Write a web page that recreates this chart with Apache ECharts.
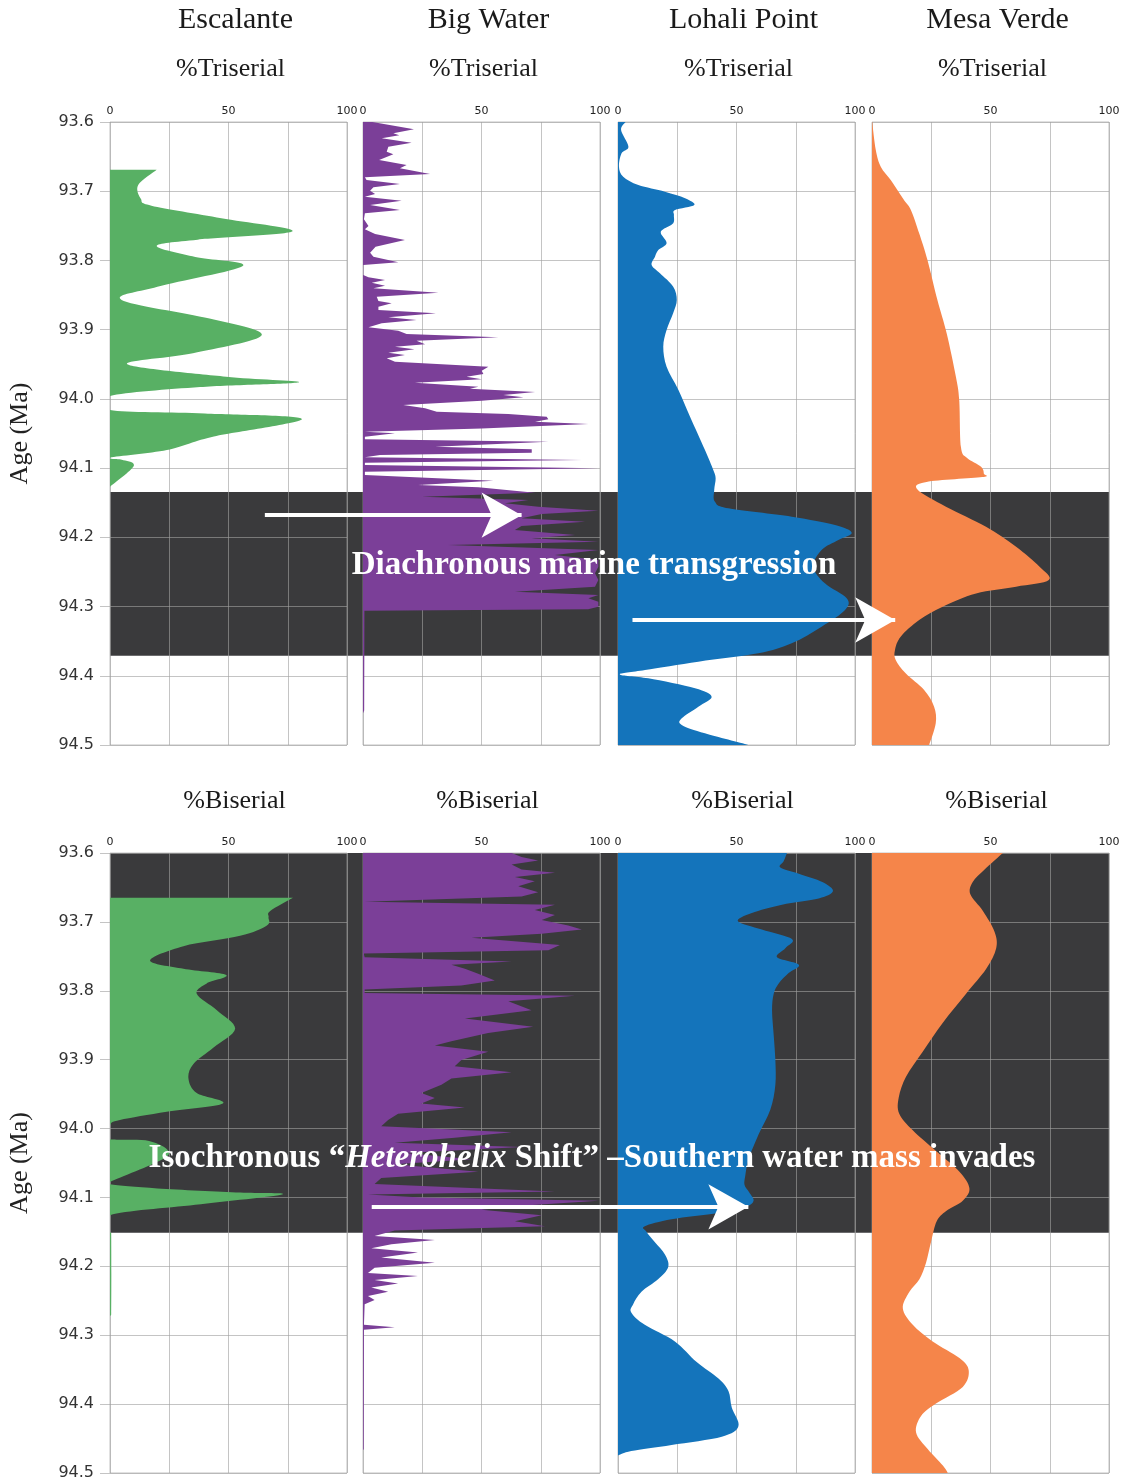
<!DOCTYPE html>
<html>
<head>
<meta charset="utf-8">
<title>Foraminifera profiles</title>
<script src="https://cdn.jsdelivr.net/npm/echarts@6/dist/echarts.min.js"></script>
<style>
  html, body { margin: 0; padding: 0; background: #fff; }
  #chart { width: 1131px; height: 1481px; }
</style>
</head>
<body>
<div id="chart"></div>
<script>
// ---- data -------------------------------------------------------------
const sites = ['Escalante', 'Big Water', 'Lohali Point', 'Mesa Verde'];
const rowLabels = ['%Triserial', '%Biserial'];
const pctTicks = [0, 50, 100];
const ageRange = [93.6, 94.5];
const ageAxisName = 'Age (Ma)';

// shaded intervals (Ma)
const bandTriserial = [94.1345, 94.371];
const bandBiserial = [93.6, 94.1514];

// annotation arrows: [age, from %, to %] on a 0-100 scale across the whole row
const arrowsTriserial = [[94.168, 15.5, 41.2], [94.3194, 52.3, 78.6]];
const arrowsBiserial = [[94.1136, 26.2, 63.9]];
const noteTriserial = 'Diachronous marine transgression';
const noteBiserial = ['Isochronous “', 'Heterohelix', ' Shift” –Southern water mass invades'];

// profiles: [age (Ma), percent]
const escalanteTri = [[93.669,19.7],[93.691,11.9],[93.711,13],[93.721,17.5],[93.739,47],[93.758,77],[93.770,37],[93.779,19.7],[93.795,36],[93.808,56],[93.838,20],[93.857,4.9],[93.884,42],[93.908,64],[93.934,35],[93.950,7.3],[93.968,49],[93.976,79.7],[93.983,38],[93.996,0],[94.016,0],[94.021,40],[94.029,81],[94.055,43],[94.074,24],[94.085,0],[94.088,5],[94.097,10],[94.127,0]];

const bigWaterTri = [[93.600,4],[93.6106,21.5],[93.6164,12.8],[93.6193,15.3],[93.6236,7.9],[93.6299,20.5],[93.6356,10.7],[93.6429,10.0],[93.6467,12.8],[93.6549,6.8],[93.6621,18.4],[93.6669,15.6],[93.6751,28.3],[93.6799,0.8],[93.6838,1.5],[93.6896,15.6],[93.6944,4.4],[93.6992,3.0],[93.7040,5.1],[93.7079,0.8],[93.7136,16.3],[93.7199,3.0],[93.7271,15.6],[93.7319,0.8],[93.7406,0.4],[93.7502,2.3],[93.7551,0.8],[93.7618,5.1],[93.7705,17.7],[93.7801,5.3],[93.7888,3.0],[93.7945,4.4],[93.8027,14.9],[93.8066,0.1],[93.8210,0.1],[93.8244,2.3],[93.8283,9.3],[93.8321,3.7],[93.8364,9.3],[93.8403,4.4],[93.8466,31.8],[93.8523,5.8],[93.8586,6.5],[93.8620,12.1],[93.8668,6.5],[93.8716,6.5],[93.8764,30.8],[93.8822,10.7],[93.8860,22.6],[93.8909,7.9],[93.8966,2.3],[93.9014,14.9],[93.9063,18.4],[93.9111,57.1],[93.9159,22.6],[93.9212,26.2],[93.9246,13.5],[93.9284,21.7],[93.9332,10.7],[93.9366,17.7],[93.9414,10.0],[93.9462,13.5],[93.9535,52.9],[93.9592,50.1],[93.9640,50.8],[93.9679,43.7],[93.9718,50.1],[93.9766,21.9],[93.9824,48.7],[93.9852,45.1],[93.9901,72.6],[93.9944,59.2],[93.9978,67.7],[94.0026,50.1],[94.0088,17.0],[94.0137,26.2],[94.0185,31.1],[94.0218,61.3],[94.0257,77.5],[94.0295,78.2],[94.0329,72.6],[94.0363,95.1],[94.0426,50.1],[94.0474,0.8],[94.0498,13.5],[94.0546,0.8],[94.0584,0.8],[94.0618,78.2],[94.0690,30.4],[94.0729,71.2],[94.0777,71.2],[94.0811,7.2],[94.0844,0.8],[94.0883,92.3],[94.0921,0.8],[94.0955,0.8],[94.1003,99.3],[94.1052,0.8],[94.1100,0.8],[94.1182,55.0],[94.1244,23.3],[94.1278,48.7],[94.1316,60.6],[94.1355,72.6],[94.1413,24.8],[94.1461,69.8],[94.1509,59.9],[94.1557,74.0],[94.1615,99.3],[94.1663,75.4],[94.1726,66.9],[94.1774,93.7],[94.1836,66.9],[94.1894,64.1],[94.1966,89.5],[94.2015,71.2],[94.2063,99.3],[94.2111,36.0],[94.2183,99.3],[94.2255,81.0],[94.2328,99.3],[94.2424,99.3],[94.2520,97.9],[94.2617,99.3],[94.2713,97.9],[94.2785,64.1],[94.2833,99.3],[94.2881,95.1],[94.2930,99.3],[94.3002,99.3],[94.3040,95.0],[94.3060,0.6],[94.4500,0.5],[94.4540,0]];

const lohaliTri = [[93.600,3.2],[93.6116,1.3],[93.6356,4.4],[93.645,1.5],[93.6645,0.4],[93.679,2.2],[93.691,8.6],[93.7006,19.8],[93.710,28.3],[93.7199,32.2],[93.727,24.1],[93.7344,23.6],[93.7464,23.3],[93.755,19.1],[93.761,18.1],[93.775,20.5],[93.785,17.0],[93.7945,15.6],[93.8066,14.2],[93.8186,17.7],[93.8379,23.3],[93.857,24.8],[93.876,23.3],[93.9005,20.5],[93.9246,19.1],[93.9535,20.5],[93.987,25.5],[94.0257,30.4],[94.0739,36.7],[94.1027,40.2],[94.1148,41.2],[94.1316,40.6],[94.1485,40.9],[94.1581,46.6],[94.1702,73.3],[94.1822,91.6],[94.1933,98.6],[94.2039,93.0],[94.2183,85.9],[94.2424,82.4],[94.2665,87.3],[94.2881,96.5],[94.305,95.8],[94.3291,85.9],[94.3531,73.3],[94.3676,59.2],[94.3796,33.9],[94.3917,11.4],[94.398,0.8],[94.4037,12.8],[94.418,32.5],[94.4302,39.5],[94.4446,33.9],[94.4615,26.9],[94.471,26.9],[94.4832,36.7],[94.5,55]];

const mesaVerdeTri = [[93.600,0.1],[93.6404,1.6],[93.6645,3.7],[93.6838,7.9],[93.6982,10.7],[93.7127,13.5],[93.7271,16.4],[93.7608,19.9],[93.7994,23.4],[93.8572,27.6],[93.9053,31.5],[93.9679,35.4],[94.0016,36.8],[94.069,37.5],[94.085,40],[94.098,46],[94.108,47.2],[94.113,46.5],[94.120,23],[94.131,19.2],[94.1557,31.2],[94.1846,48.1],[94.2135,60.8],[94.2424,70.7],[94.2617,74.6],[94.2713,60.8],[94.281,43.9],[94.3002,29.8],[94.3195,19.9],[94.3435,12.1],[94.3628,9.7],[94.3772,10],[94.3965,14.2],[94.4206,22],[94.4446,26.2],[94.4687,26.9],[94.5,24.1]];

const escalanteBi = [[93.665,77.2],[93.6841,67.6],[93.6931,66.9],[93.7051,66.2],[93.7202,54.9],[93.7352,31],[93.7562,16.9],[93.7682,31],[93.7772,49],[93.7893,40.8],[93.8043,36.6],[93.8283,45.1],[93.8553,52.8],[93.8824,43.7],[93.9064,35.2],[93.9274,33.1],[93.9485,36.6],[93.9635,47.6],[93.9755,23.9],[93.9875,4.2],[93.9953,0],[94.0157,0],[94.017,15],[94.030,24],[94.045,22],[94.0776,0],[94.081,0],[94.087,20],[94.093,55],[94.0957,72.5],[94.1107,36],[94.1257,0],[94.150,0],[94.152,0.5],[94.270,0.5],[94.272,0]];

const bigWaterBi = [[93.600,62.7],[93.6058,66.9],[93.6108,73.9],[93.6168,62.7],[93.624,66.9],[93.6288,81],[93.6348,64.1],[93.6409,72.5],[93.6481,65.5],[93.6571,73.9],[93.6631,66.9],[93.6709,0.7],[93.6751,81],[93.6829,72.5],[93.6901,81],[93.6973,75.4],[93.7051,86.6],[93.7112,92.3],[93.7172,75.4],[93.7232,45.8],[93.7334,83.1],[93.7412,78.2],[93.746,0.3],[93.7514,0.7],[93.7574,62.7],[93.7622,37.3],[93.7682,43],[93.7754,48.6],[93.785,55.6],[93.7923,41.5],[93.7983,0.7],[93.8031,0.7],[93.8073,89.4],[93.8151,61.3],[93.8283,71.1],[93.8403,43],[93.8523,71.8],[93.8614,52.8],[93.8734,37.3],[93.8794,30.3],[93.8884,52.8],[93.9004,41.5],[93.9094,38.7],[93.9184,62.7],[93.9274,37.3],[93.9365,33.1],[93.9485,24.6],[93.9557,30.3],[93.9635,24.6],[93.9695,43],[93.9785,14.8],[93.9875,10.6],[93.9965,7.7],[94.0055,62.7],[94.0134,38.7],[94.0206,13.4],[94.0266,66.9],[94.0356,17.6],[94.0446,45.8],[94.0518,13.4],[94.0626,48.6],[94.0716,7.7],[94.0806,4.9],[94.0915,81],[94.0957,2.1],[94.0999,24.6],[94.1047,99.3],[94.1119,66.9],[94.1179,50],[94.1257,75.4],[94.1347,64.1],[94.1419,76.8],[94.1479,13.4],[94.1558,4.9],[94.1618,30.3],[94.1678,12],[94.1738,3.5],[94.1798,23.2],[94.187,7.7],[94.1948,30.3],[94.202,4.9],[94.2098,2.1],[94.214,23.2],[94.22,4.9],[94.2248,14.8],[94.2308,3.5],[94.2369,10.6],[94.2429,2.1],[94.2489,4.9],[94.2549,0.7],[94.2849,0.4],[94.2885,13.4],[94.2921,0.4],[94.4652,0.3],[94.467,0]];

const lohaliBi = [[93.600,71.3],[93.612,69.9],[93.621,68.5],[93.630,76.3],[93.642,86.2],[93.6553,90.7],[93.6661,84.7],[93.6751,69.2],[93.6871,56.5],[93.6991,50.6],[93.7112,60.7],[93.725,73.4],[93.7382,70.6],[93.7514,67.1],[93.7622,76.3],[93.7742,72],[93.7893,67.8],[93.8043,65.7],[93.8283,65],[93.8644,65.7],[93.9004,66.4],[93.9365,66.4],[93.9725,64.3],[94.0086,59.3],[94.0446,55.1],[94.0686,53.7],[94.0819,53.4],[94.0927,55.4],[94.1047,57.2],[94.1137,53.7],[94.1227,42.4],[94.1317,22.6],[94.1419,11.3],[94.1497,12],[94.1648,15.5],[94.1828,19.8],[94.2008,21.2],[94.2188,16.9],[94.2369,9.9],[94.2549,6.4],[94.2669,5.6],[94.2849,11.3],[94.309,24],[94.339,33.2],[94.363,42.4],[94.3811,46.6],[94.4051,48],[94.4322,50.8],[94.4472,43.8],[94.4592,22.6],[94.4682,5.6],[94.4742,0.3]];

const mesaVerdeBi = [[93.600,55.2],[93.624,47.5],[93.642,42.5],[93.660,41.5],[93.6841,46.8],[93.7142,51.7],[93.7382,52.4],[93.7682,48.2],[93.8043,39.7],[93.8463,29.9],[93.8884,21.4],[93.9244,14.4],[93.9545,11.3],[93.9785,11.5],[94.0026,17.2],[94.0326,27],[94.0626,36.9],[94.0867,41.1],[94.1047,38.3],[94.1197,31.3],[94.1347,27.3],[94.1648,24.9],[94.1948,22.8],[94.2188,20],[94.2369,15.8],[94.2609,13],[94.2849,17.2],[94.309,25.6],[94.333,36.9],[94.351,40.8],[94.375,38.3],[94.399,27],[94.4171,20.7],[94.4411,18.6],[94.4652,23.5],[94.4892,29.9],[94.5,32]];

// ---- layout & style ---------------------------------------------------
const PANEL_LEFT = [110, 363, 618, 872];
const PANEL_W = 237;
const ROW_TOP = [122, 853];
const ROW_H = [623, 620];
const SITE_COLORS = ['#58b064', '#7b3f98', '#1474bb', '#f5854a'];
const SMOOTH = [true, false, true, true];
const GRID_LINE = 'rgba(160,160,160,0.62)';
const BAND_FILL = '#3a3a3c';
const SERIF = '"Liberation Serif", "Times New Roman", serif';
const SANS = '"DejaVu Sans", Verdana, sans-serif';

const profiles = [
  [escalanteTri, bigWaterTri, lohaliTri, mesaVerdeTri],
  [escalanteBi, bigWaterBi, lohaliBi, mesaVerdeBi]
];
const bands = [bandTriserial, bandBiserial];
const arrows = [arrowsTriserial, arrowsBiserial];

// Catmull-Rom through pixel points, converted to cubic Bezier segments
function splinePath(pts) {
  let d = '';
  const clamp = (v, a, b) => Math.min(Math.max(v, Math.min(a, b)), Math.max(a, b));
  for (let i = 0; i < pts.length - 1; i++) {
    const p0 = pts[i - 1] || pts[i], p1 = pts[i], p2 = pts[i + 1], p3 = pts[i + 2] || pts[i + 1];
    const c1x = p1[0] + (p2[0] - p0[0]) / 6;
    const c1y = clamp(p1[1] + (p2[1] - p0[1]) / 6, p1[1], p2[1]);
    const c2x = p2[0] - (p3[0] - p1[0]) / 6;
    const c2y = clamp(p2[1] - (p3[1] - p1[1]) / 6, p1[1], p2[1]);
    d += 'C' + c1x + ',' + c1y + ',' + c2x + ',' + c2y + ',' + p2[0] + ',' + p2[1];
  }
  return d;
}

// filled profile: area between the 0 % line and the curve
function profileSeries(axisIdx, rows, color, smooth) {
  return {
    type: 'custom',
    coordinateSystem: 'cartesian2d',
    xAxisIndex: axisIdx,
    yAxisIndex: axisIdx,
    clip: true,
    silent: true,
    z: 2,
    data: rows.map(r => [r[1], r[0]]),
    encode: { x: 0, y: 1 },
    renderItem(params, api) {
      if (params.dataIndex !== 0) return null;
      const pts = rows.map(r => api.coord([r[1], r[0]]));
      const start = api.coord([0, rows[0][0]]);
      const end = api.coord([0, rows[rows.length - 1][0]]);
      let d = 'M' + start[0] + ',' + start[1] + 'L' + pts[0][0] + ',' + pts[0][1];
      if (smooth) {
        d += splinePath(pts);
      } else {
        for (let i = 1; i < pts.length; i++) d += 'L' + pts[i][0] + ',' + pts[i][1];
      }
      d += 'L' + end[0] + ',' + end[1] + 'Z';
      return { type: 'path', shape: { pathData: d }, style: { fill: color } };
    }
  };
}

const grids = [], xAxes = [], yAxes = [], series = [];

for (let r = 0; r < 2; r++) {
  for (let c = 0; c < 4; c++) {
    const idx = r * 4 + c;
    grids.push({
      left: PANEL_LEFT[c], top: ROW_TOP[r], width: PANEL_W, height: ROW_H[r],
      show: true, borderColor: GRID_LINE, borderWidth: 1, backgroundColor: 'transparent'
    });
    xAxes.push({
      gridIndex: idx, type: 'value', min: 0, max: 100, interval: 25, position: 'top',
      axisLine: { show: false }, axisTick: { show: false },
      axisLabel: {
        margin: 5, fontFamily: SANS, fontSize: 11, color: '#222',
        showMinLabel: true, showMaxLabel: true,
        formatter: v => (pctTicks.indexOf(v) >= 0 ? String(v) : '')
      },
      splitLine: { show: true, lineStyle: { color: GRID_LINE, width: 1 } }
    });
    yAxes.push({
      gridIndex: idx, type: 'value', inverse: true,
      min: ageRange[0], max: ageRange[1], interval: 0.1,
      axisLine: { show: false },
      axisTick: { show: c === 0, length: 10, lineStyle: { color: GRID_LINE } },
      axisLabel: {
        show: c === 0, margin: 16, fontFamily: SANS, fontSize: 16, color: '#333',
        formatter: v => v.toFixed(1)
      },
      splitLine: { show: true, lineStyle: { color: GRID_LINE, width: 1 } },
      name: c === 0 ? ageAxisName : '',
      nameLocation: 'middle', nameGap: 77, nameRotate: 90,
      nameTextStyle: { fontFamily: SERIF, fontSize: 26, color: '#222' }
    });
    series.push(profileSeries(idx, profiles[r][c], SITE_COLORS[c], SMOOTH[c]));
  }
}

// full-width backdrop per row: shaded interval + arrows
for (let r = 0; r < 2; r++) {
  const idx = 8 + r;
  grids.push({ left: PANEL_LEFT[0], top: ROW_TOP[r], width: PANEL_LEFT[3] + PANEL_W - PANEL_LEFT[0], height: ROW_H[r] });
  xAxes.push({ gridIndex: idx, type: 'value', min: 0, max: 100, show: false });
  yAxes.push({ gridIndex: idx, type: 'value', inverse: true, min: ageRange[0], max: ageRange[1], show: false });
  series.push({
    type: 'custom', xAxisIndex: idx, yAxisIndex: idx, silent: true, z: -10,
    data: [bands[r]],
    encode: { x: -1, y: [0, 1] },
    renderItem(params, api) {
      const a = api.coord([0, api.value(0)]);
      const b = api.coord([100, api.value(1)]);
      return { type: 'rect', shape: { x: a[0], y: a[1], width: b[0] - a[0], height: b[1] - a[1] }, style: { fill: BAND_FILL } };
    }
  });
  series.push({
    type: 'line', xAxisIndex: idx, yAxisIndex: idx, data: [], silent: true,
    markLine: {
      silent: true, z: 20, animation: false,
      symbol: ['none', 'arrow'], symbolSize: [34, 40],
      lineStyle: { color: '#fff', width: 4, type: 'solid' },
      itemStyle: { color: '#fff' },
      label: { show: false },
      data: arrows[r].map(a => [{ coord: [a[1], a[0]] }, { coord: [a[2], a[0]] }])
    }
  });
}

// headings and notes
const graphics = [];
sites.forEach((name, c) => {
  const cx = PANEL_LEFT[c] + PANEL_W / 2;
  graphics.push({ type: 'text', x: cx + 7, y: 20, z: 50,
    style: { text: name, font: '30px ' + SERIF, fill: '#1a1a1a', align: 'center', verticalAlign: 'middle' } });
  graphics.push({ type: 'text', x: cx + 2, y: 69, z: 50,
    style: { text: rowLabels[0], font: '26px ' + SERIF, fill: '#1a1a1a', align: 'center', verticalAlign: 'middle' } });
  graphics.push({ type: 'text', x: cx + 6, y: 801, z: 50,
    style: { text: rowLabels[1], font: '26px ' + SERIF, fill: '#1a1a1a', align: 'center', verticalAlign: 'middle' } });
});
graphics.push({ type: 'text', x: 594, y: 565, z: 50,
  style: { text: noteTriserial, font: 'bold 33px ' + SERIF, fill: '#fff', align: 'center', verticalAlign: 'middle' } });
graphics.push({ type: 'text', x: 592, y: 1158, z: 50,
  style: {
    text: '{b|' + noteBiserial[0] + '}{i|' + noteBiserial[1] + '}{b|' + noteBiserial[2] + '}',
    align: 'center', verticalAlign: 'middle', fill: '#fff',
    rich: {
      b: { fontFamily: SERIF, fontWeight: 'bold', fontSize: 33, fill: '#fff', color: '#fff' },
      i: { fontFamily: SERIF, fontWeight: 'bold', fontStyle: 'italic', fontSize: 33, fill: '#fff', color: '#fff' }
    }
  } });

const chart = echarts.init(document.getElementById('chart'));
chart.setOption({
  animation: false,
  backgroundColor: '#fff',
  grid: grids,
  xAxis: xAxes,
  yAxis: yAxes,
  series: series,
  graphic: graphics
});
</script>
</body>
</html>
